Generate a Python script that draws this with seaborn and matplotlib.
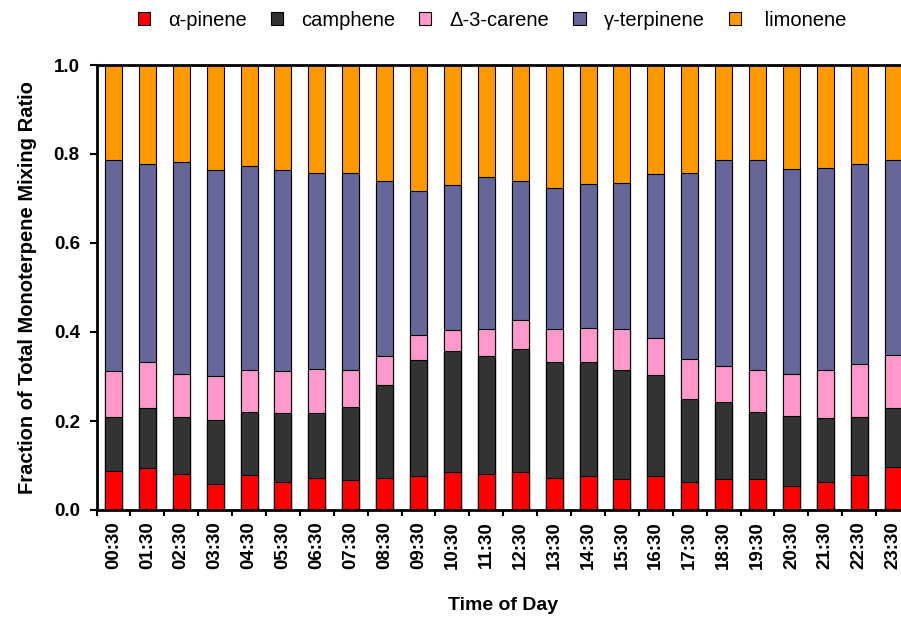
import numpy as np
import matplotlib
matplotlib.use("Agg")
import matplotlib.pyplot as plt
from matplotlib.patches import Patch
import seaborn as sns

# hour of day (half past)
times = ["%02d:30" % h for h in range(24)]

# fractions of total monoterpene mixing ratio
a_pinene = [0.087, 0.094, 0.082, 0.059, 0.079, 0.062, 0.073, 0.068, 0.071, 0.077, 0.085, 0.082,
            0.085, 0.073, 0.076, 0.070, 0.076, 0.062, 0.070, 0.070, 0.053, 0.062, 0.079, 0.096]
camphene = [0.122, 0.135, 0.127, 0.144, 0.141, 0.156, 0.145, 0.164, 0.209, 0.261, 0.273, 0.264,
            0.276, 0.260, 0.257, 0.245, 0.228, 0.188, 0.173, 0.151, 0.159, 0.144, 0.130, 0.133]
carene = [0.103, 0.103, 0.097, 0.098, 0.095, 0.094, 0.099, 0.083, 0.066, 0.055, 0.046, 0.060,
          0.065, 0.074, 0.076, 0.091, 0.083, 0.090, 0.080, 0.093, 0.094, 0.108, 0.120, 0.120]
terpinene = [0.474, 0.446, 0.475, 0.463, 0.458, 0.451, 0.441, 0.443, 0.394, 0.324, 0.327, 0.343,
             0.314, 0.316, 0.323, 0.328, 0.368, 0.418, 0.463, 0.472, 0.460, 0.455, 0.449, 0.437]
limonene = [0.214, 0.222, 0.219, 0.236, 0.227, 0.237, 0.242, 0.242, 0.260, 0.283, 0.269, 0.251,
            0.260, 0.277, 0.268, 0.266, 0.245, 0.242, 0.214, 0.214, 0.234, 0.231, 0.222, 0.214]

names = ["\u03b1-pinene", "camphene", "\u0394-3-carene", "\u03b3-terpinene", " limonene"]
colors = ["#FF0000", "#333333", "#FF99CC", "#666699", "#FF9900"]

sns.set_style("ticks")
plt.rcParams["font.family"] = ["Liberation Sans", "DejaVu Sans"]
for k in ["text.color", "axes.labelcolor", "xtick.color", "ytick.color", "axes.edgecolor"]:
    plt.rcParams[k] = "black"

fig = plt.figure(figsize=(9.01, 6.18), dpi=100)
ax = fig.add_axes([96.5 / 901, 1 - 510 / 618, 813.6 / 901, 445 / 618])

series = [a_pinene, camphene, carene, terpinene, limonene]
cum = np.cumsum(np.array(series), axis=0)

# stacked bars: draw the tallest cumulative layer first, then smaller ones on top
for i in range(len(series) - 1, -1, -1):
    sns.barplot(x=times, y=cum[i], color=colors[i], saturation=1, width=0.5, edgecolor="black",
                linewidth=0.8, errorbar=None, ax=ax, zorder=2)

ax.set_xlim(-0.5, 23.5)
ax.set_ylim(0, 1.0)
ax.set_yticks(np.arange(0, 1.01, 0.2))
ax.set_yticklabels(["%.1f" % v for v in np.arange(0, 1.01, 0.2)], fontsize=13.5, fontweight="bold")
ax.set_xticks(range(24))
ax.set_xticklabels(times, rotation=90, fontsize=13.5, fontweight="bold")
ax.set_xticks(np.arange(-0.5, 24.0, 1.0), minor=True)
ax.tick_params(axis="x", which="major", length=0, pad=8)
ax.tick_params(axis="x", which="minor", length=4, width=1.5, direction="out")
ax.tick_params(axis="y", length=5, width=1.5, direction="out", pad=7)

for side in ["left", "bottom", "top"]:
    ax.spines[side].set_linewidth(2)
ax.spines["right"].set_visible(False)

ax.set_xlabel("Time of Day", fontsize=14, fontweight="bold", labelpad=20)
ax.set_ylabel("Fraction of Total Monoterpene Mixing Ratio", fontsize=14.5, fontweight="bold", labelpad=12)

handles = [Patch(facecolor=c, edgecolor="black", linewidth=0.8) for c in colors]
fig.legend(handles, names, loc="center", bbox_to_anchor=(492 / 901, 1 - 20 / 618), ncol=5,
           frameon=False, fontsize=14.5, handlelength=0.6, handleheight=0.6,
           handletextpad=0.9, columnspacing=1.2)

plt.savefig("out.png", dpi=100)
